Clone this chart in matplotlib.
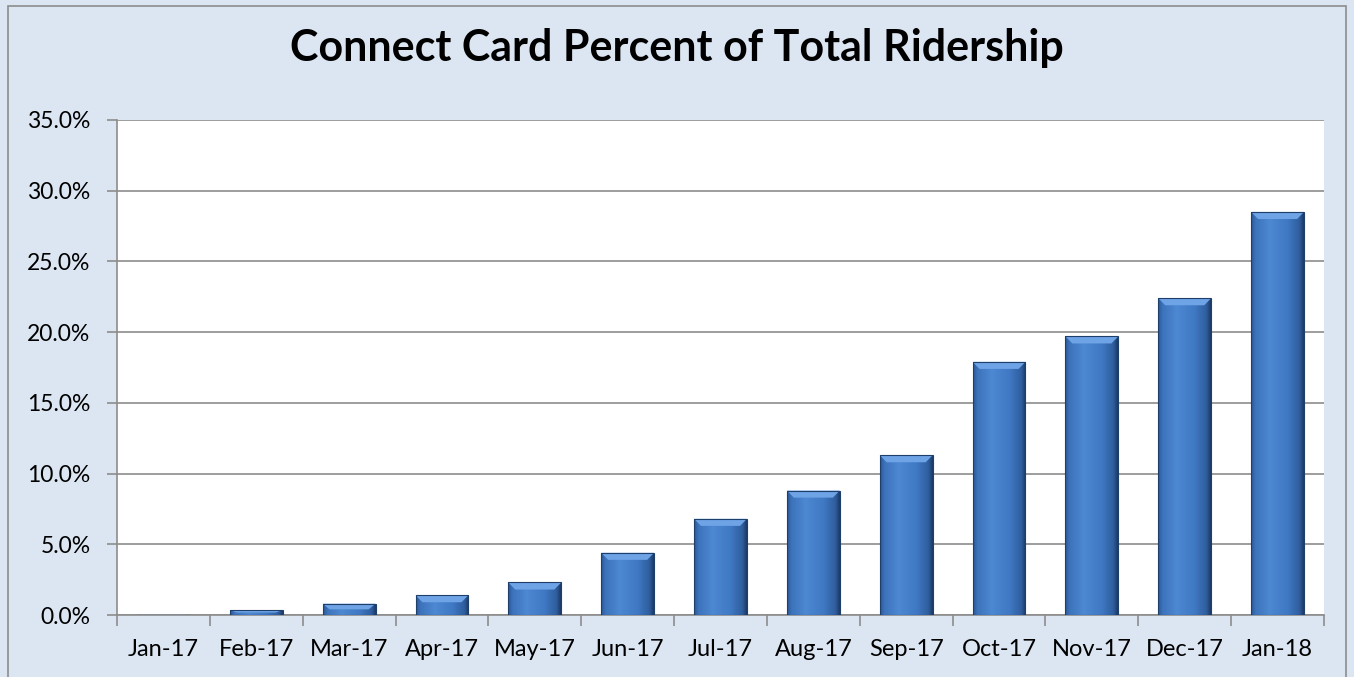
import numpy as np
import matplotlib.pyplot as plt
from matplotlib import rcParams
from matplotlib.patches import Rectangle, Polygon
from matplotlib.colors import to_rgb
from matplotlib.ticker import FuncFormatter

rcParams['font.family'] = ['Lato', 'DejaVu Sans']

months = ['Jan-17', 'Feb-17', 'Mar-17', 'Apr-17', 'May-17', 'Jun-17', 'Jul-17',
          'Aug-17', 'Sep-17', 'Oct-17', 'Nov-17', 'Dec-17', 'Jan-18']
pct = [0.02, 0.35, 0.8, 1.4, 2.3, 4.4, 6.8, 8.8, 11.3, 17.9, 19.7, 22.4, 28.5]
yticks = [0, 5, 10, 15, 20, 25, 30, 35]

bg = '#dce6f2'
grey = '#8c8c8c'
fig = plt.figure(figsize=(13.54, 6.77), dpi=100)
fig.patch.set_facecolor(bg)
fig.patches.append(Rectangle((8/1354, -0.01), 1338/1354, 1 - 6/677 + 0.01,
                             transform=fig.transFigure, fill=False,
                             edgecolor=grey, linewidth=1.2))

ax = fig.add_axes([117/1354, 62/677, 1207/1354, 495/677])
ax.set_facecolor('white')

x = np.arange(len(months))
w = 0.57
bars = ax.bar(x, pct, width=w, color='#3f78c3', edgecolor='none', zorder=3)

# horizontal shading across each bar to fake the bevel look
stops = [0.0, 0.08, 0.35, 0.7, 0.92, 1.0]
cols = np.array([to_rgb(c) for c in
                 ['#2b5794', '#3c73bb', '#4d88d2', '#3f78c3', '#2f5e9e', '#1c3b68']])
u = np.linspace(0, 1, 80)
row = np.stack([np.interp(u, stops, cols[:, k]) for k in range(3)], axis=-1)
img = np.repeat(row[np.newaxis, :, :], 2, axis=0)

for b, v in zip(bars, pct):
    x0 = b.get_x()
    im = ax.imshow(img, aspect='auto', extent=(x0, x0 + w, 0, v), zorder=3.5,
                   interpolation='bilinear')
    im.set_clip_path(b)
    bev = min(0.5, v * 0.5)
    dx = 0.075
    ax.add_patch(Polygon([(x0, v), (x0 + w, v), (x0 + w - dx, v - bev), (x0 + dx, v - bev)],
                         closed=True, facecolor='#6ea3e6', edgecolor='none', zorder=3.6))
    ax.add_patch(Rectangle((x0, 0), w, v, fill=False, edgecolor='#1f3f6b',
                           linewidth=0.8, zorder=3.7))

ax.set_xlim(-0.5, len(months) - 0.5)
ax.set_ylim(0, 35)
ax.set_yticks(yticks)
ax.yaxis.set_major_formatter(FuncFormatter(lambda v, p: f'{v:.1f}%'))
ax.yaxis.grid(True, color=grey, linewidth=1.2, zorder=0)
ax.set_axisbelow(True)

ax.set_xticks(np.arange(len(months) + 1) - 0.5)
ax.set_xticklabels([])
ax.set_xticks(x, minor=True)
ax.set_xticklabels(months, minor=True)
ax.tick_params(axis='x', which='major', length=8, width=1.2, color=grey)
ax.tick_params(axis='x', which='minor', length=0, pad=17, labelsize=17)
ax.tick_params(axis='y', length=7, width=1.2, color=grey, labelsize=16.5, pad=12)

for s in ['top', 'right']:
    ax.spines[s].set_visible(False)
for s in ['left', 'bottom']:
    ax.spines[s].set_color(grey)
    ax.spines[s].set_linewidth(1.2)

fig.text(0.5, 0.929, 'Connect Card Percent of Total Ridership', ha='center',
         va='center', fontsize=31, fontweight='bold')

fig.savefig('out.png', dpi=100, facecolor=bg)
